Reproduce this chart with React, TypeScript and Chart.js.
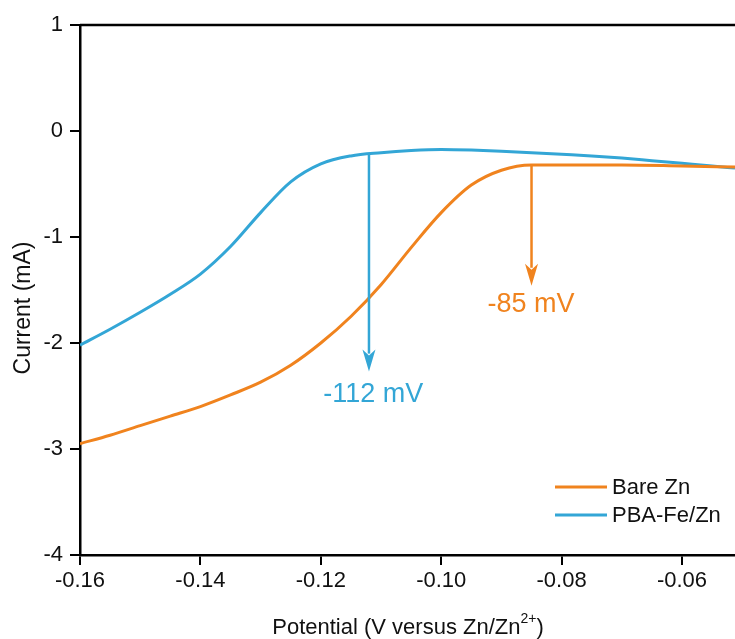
import React, { useEffect, useRef } from "react";
import { Chart, registerables } from "chart.js";

Chart.register(...registerables);

// Linear sweep voltammetry curves (potential in V, current in mA)
const potentialBare = [-0.16, -0.155, -0.15, -0.145, -0.14, -0.135, -0.13, -0.125, -0.12, -0.115, -0.11, -0.105, -0.1, -0.095, -0.09, -0.085, -0.08, -0.07, -0.06, -0.0512];
const currentBare = [-2.95, -2.87, -2.78, -2.69, -2.6, -2.49, -2.37, -2.21, -2.0, -1.75, -1.45, -1.1, -0.77, -0.51, -0.37, -0.32, -0.32, -0.32, -0.33, -0.34];

const potentialPBA = [-0.16, -0.155, -0.15, -0.145, -0.14, -0.135, -0.13, -0.125, -0.12, -0.115, -0.11, -0.105, -0.1, -0.095, -0.09, -0.085, -0.08, -0.075, -0.07, -0.065, -0.06, -0.055, -0.0512];
const currentPBA = [-2.02, -1.87, -1.71, -1.54, -1.35, -1.09, -0.77, -0.48, -0.31, -0.235, -0.205, -0.185, -0.175, -0.18, -0.19, -0.205, -0.22, -0.235, -0.255, -0.28, -0.305, -0.33, -0.35];

// Onset-potential markers: arrow x position, start and end current
const arrowPotential = [-0.112, -0.085];
const arrowFrom = [-0.21, -0.32];
const arrowTo = [-2.27, -1.46];
const arrowLabelPos = [
  [-0.1113, -2.49],
  [-0.0851, -1.64],
];

const seriesNames = ["Bare Zn", "PBA-Fe/Zn"];
const xTicks = [-0.16, -0.14, -0.12, -0.1, -0.08, -0.06];
const yTicks = [1, 0, -1, -2, -3, -4];

const ORANGE = "#F0831E";
const BLUE = "#33A6D6";
const arrowColors = [BLUE, ORANGE];
const FONT = "'Liberation Sans', Arial, sans-serif";

const toPoints = (xs: number[], ys: number[]) => xs.map((x, i) => ({ x, y: ys[i] }));

const decorPlugin = {
  id: "decor",
  afterDatasetsDraw(chart: any) {
    const { ctx, chartArea, scales } = chart;
    const xs = scales.x;
    const ys = scales.y;
    ctx.save();

    // top frame line
    ctx.strokeStyle = "#000";
    ctx.lineWidth = 2.5;
    ctx.beginPath();
    ctx.moveTo(chartArea.left, chartArea.top);
    ctx.lineTo(chartArea.right, chartArea.top);
    ctx.stroke();

    // arrows and their labels
    arrowPotential.forEach((p, i) => {
      const px = xs.getPixelForValue(p);
      const y0 = ys.getPixelForValue(arrowFrom[i]);
      const y1 = ys.getPixelForValue(arrowTo[i]);
      const color = arrowColors[i];
      const headLen = 22;
      const headHalf = 6.5;
      ctx.strokeStyle = color;
      ctx.fillStyle = color;
      ctx.lineWidth = 2.5;
      ctx.beginPath();
      ctx.moveTo(px, y0);
      ctx.lineTo(px, y1 - headLen + 4);
      ctx.stroke();
      ctx.beginPath();
      ctx.moveTo(px, y1);
      ctx.lineTo(px - headHalf, y1 - headLen);
      ctx.lineTo(px, y1 - headLen + 6);
      ctx.lineTo(px + headHalf, y1 - headLen);
      ctx.closePath();
      ctx.fill();

      const [lx, ly] = arrowLabelPos[i];
      ctx.font = `27px ${FONT}`;
      ctx.textAlign = "center";
      ctx.textBaseline = "middle";
      ctx.fillText(`${Math.round(p * 1000)} mV`, xs.getPixelForValue(lx), ys.getPixelForValue(ly));
    });

    // legend
    const legendColors = [ORANGE, BLUE];
    seriesNames.forEach((name, i) => {
      const ly = chartArea.bottom - 68 + i * 28;
      const lx = chartArea.right - 180;
      ctx.strokeStyle = legendColors[i];
      ctx.lineWidth = 3;
      ctx.beginPath();
      ctx.moveTo(lx, ly);
      ctx.lineTo(lx + 52, ly);
      ctx.stroke();
      ctx.fillStyle = "#111";
      ctx.font = `22px ${FONT}`;
      ctx.textAlign = "left";
      ctx.textBaseline = "middle";
      ctx.fillText(name, lx + 57, ly + 1);
    });

    // y-axis title
    ctx.fillStyle = "#111";
    ctx.font = `23px ${FONT}`;
    ctx.textAlign = "center";
    ctx.textBaseline = "middle";
    ctx.save();
    ctx.translate(24, (chartArea.top + chartArea.bottom) / 2 + 18);
    ctx.rotate(-Math.PI / 2);
    ctx.fillText("Current (mA)", 0, 0);
    ctx.restore();

    // x-axis title with superscript
    const main = "Potential (V versus Zn/Zn";
    const sup = "2+";
    const tail = ")";
    ctx.font = `22px ${FONT}`;
    const wMain = ctx.measureText(main).width;
    ctx.font = `14px ${FONT}`;
    const wSup = ctx.measureText(sup).width;
    ctx.font = `22px ${FONT}`;
    const wTail = ctx.measureText(tail).width;
    const total = wMain + wSup + wTail;
    const cx = 408;
    const baseY = 634;
    let x = cx - total / 2;
    ctx.textAlign = "left";
    ctx.textBaseline = "alphabetic";
    ctx.fillText(main, x, baseY);
    x += wMain;
    ctx.font = `14px ${FONT}`;
    ctx.fillText(sup, x, baseY - 11);
    x += wSup;
    ctx.font = `22px ${FONT}`;
    ctx.fillText(tail, x, baseY);

    ctx.restore();
  },
};

export default function App() {
  const canvasRef = useRef<HTMLCanvasElement | null>(null);

  useEffect(() => {
    if (!canvasRef.current) return;
    const chart = new Chart(canvasRef.current, {
      type: "line",
      data: {
        datasets: [
          {
            label: seriesNames[0],
            data: toPoints(potentialBare, currentBare),
            borderColor: ORANGE,
            borderWidth: 3,
            pointRadius: 0,
            cubicInterpolationMode: "monotone",
          },
          {
            label: seriesNames[1],
            data: toPoints(potentialPBA, currentPBA),
            borderColor: BLUE,
            borderWidth: 3,
            pointRadius: 0,
            cubicInterpolationMode: "monotone",
          },
        ],
      },
      options: {
        animation: false,
        responsive: false,
        devicePixelRatio: 1,
        layout: { padding: { left: 0, top: 25, right: 0, bottom: 0 } },
        plugins: {
          legend: { display: false },
          tooltip: { enabled: false },
        },
        scales: {
          x: {
            type: "linear",
            min: -0.16,
            max: -0.0512,
            afterBuildTicks: (scale: any) => {
              scale.ticks = xTicks.map((v) => ({ value: v }));
            },
            afterFit: (scale: any) => {
              scale.height = 84;
            },
            ticks: {
              color: "#111",
              font: { family: FONT, size: 22 },
              padding: 3,
              maxRotation: 0,
              callback: (v: any) => Number(v).toFixed(2),
            },
            grid: {
              drawOnChartArea: false,
              drawTicks: true,
              tickLength: 10,
              color: "#000",
              lineWidth: 2,
            },
            border: { display: true, color: "#000", width: 2.5 },
          },
          y: {
            type: "linear",
            min: -4,
            max: 1,
            afterBuildTicks: (scale: any) => {
              scale.ticks = yTicks.map((v) => ({ value: v }));
            },
            afterFit: (scale: any) => {
              scale.width = 80;
            },
            ticks: {
              color: "#111",
              font: { family: FONT, size: 22 },
              padding: 7,
              callback: (v: any) => String(v),
            },
            grid: {
              drawOnChartArea: false,
              drawTicks: true,
              tickLength: 10,
              color: "#000",
              lineWidth: 2,
            },
            border: { display: true, color: "#000", width: 2.5 },
          },
        },
      },
      plugins: [decorPlugin],
    } as any);
    return () => chart.destroy();
  }, []);

  return (
    <div style={{ position: "fixed", left: 0, top: 0, width: 735, height: 639, background: "#fff" }}>
      <canvas ref={canvasRef} width={735} height={639} style={{ display: "block" }} />
    </div>
  );
}
